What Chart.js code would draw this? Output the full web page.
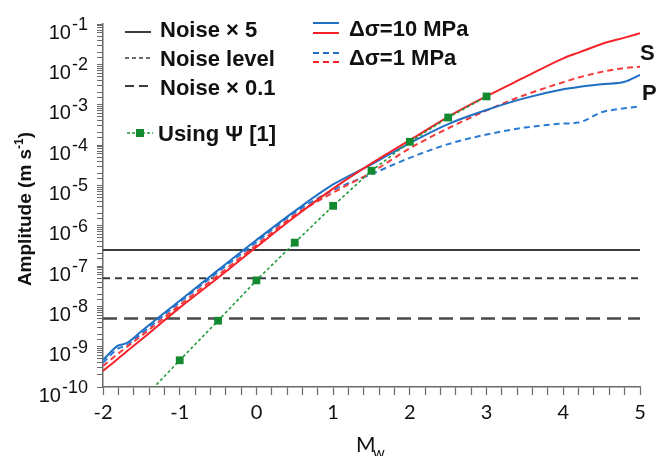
<!DOCTYPE html>
<html>
<head>
<meta charset="utf-8">
<script src="https://cdn.jsdelivr.net/npm/chart.js@4.4.1/dist/chart.umd.min.js"></script>
<style>
  html, body { margin: 0; padding: 0; background: #fff; }
</style>
</head>
<body>
<canvas id="chart" width="662" height="456"></canvas>
<script>
// Magnitude grid shared by the four model curves
const mw = [-2, -1.8, -1.7, -1.5, -1, -0.5, 0, 0.5, 1, 1.5, 2, 2.5, 3, 3.5, 4, 4.2, 4.5, 4.8, 5];

// P wave, stress drop 10 MPa (blue solid)
const pHigh = [4.7e-10, 1.07e-9, 1.2e-9, 2.4e-9, 1.38e-8, 7.9e-8, 4.4e-7, 2.3e-6, 1.05e-5, 3.3e-5,
  1.12e-4, 3.3e-4, 7.4e-4, 1.45e-3, 2.4e-3, 2.75e-3, 3.2e-3, 3.7e-3, 5.5e-3];
// S wave, stress drop 10 MPa (red solid)
const sHigh = [2.5e-10, 5.1e-10, 7.4e-10, 1.5e-9, 9.3e-9, 5.1e-8, 2.95e-7, 1.66e-6, 8.3e-6, 3.5e-5,
  1.32e-4, 5.0e-4, 1.62e-3, 4.8e-3, 1.41e-2, 1.95e-2, 3.2e-2, 4.6e-2, 5.9e-2];
// P wave, stress drop 1 MPa (blue dashed)
const pLow = [4.0e-10, 9.1e-10, 1.05e-9, 2.1e-9, 1.26e-8, 7.1e-8, 3.9e-7, 2.1e-6, 7.6e-6, 1.9e-5,
  4.8e-5, 1.05e-4, 1.82e-4, 2.7e-4, 3.4e-4, 3.6e-4, 6.5e-4, 8.1e-4, 9.1e-4];
// S wave, stress drop 1 MPa (red dashed)
const sLow = [3.3e-10, 6.8e-10, 9.5e-10, 1.86e-9, 1.07e-8, 5.9e-8, 3.3e-7, 1.82e-6, 6.6e-6, 2.1e-5,
  8.3e-5, 2.6e-4, 7.2e-4, 1.74e-3, 3.6e-3, 4.7e-3, 6.5e-3, 8.1e-3, 8.7e-3];

// Using Psi [1] (green, dotted with squares); first point lies below the axis
const psiMw = [-1.5, -1, -0.5, 0, 0.5, 1, 1.5, 2, 2.5, 3];
const psiAmp = [4.6e-11, 4.6e-10, 4.4e-9, 4.4e-8, 3.8e-7, 3.1e-6, 2.3e-5, 1.2e-4, 4.8e-4, 1.6e-3];

// Noise reference lines
const noiseMw = [-2, 5];
const noiseX5 = [2.5e-7, 2.5e-7];
const noiseLevel = [5e-8, 5e-8];
const noiseX01 = [5e-9, 5e-9];

// Axis ticks
const yTickValues = [1e-1, 1e-2, 1e-3, 1e-4, 1e-5, 1e-6, 1e-7, 1e-8, 1e-9, 1e-10];
const yTickExps = ['-1', '-2', '-3', '-4', '-5', '-6', '-7', '-8', '-9', '-10'];
const xTickLabels = [-2, -1, 0, 1, 2, 3, 4, 5];

const BLUE = '#1f6fc4';
const BLUE_D = '#2a7bd3';
const RED = '#f5222a';
const RED_D = '#f53a3a';
const GREEN = '#1f9a3c';
const GREEN_M = '#138a2f';
const NOISE = '#3c3c3c';
const AXIS = '#6a6a6a';

function pts(xs, ys) {
    return xs.map((x, i) => ({ x: x, y: ys[i] }));
}

function curve(label, data, color, dash, order) {
    return {
        label: label,
        data: data,
        borderColor: color,
        borderWidth: 2,
        borderDash: dash,
        pointRadius: 0,
        cubicInterpolationMode: 'monotone',
        order: order
    };
}

const datasets = [
    {
        label: 'Using Ψ [1]',
        data: pts(psiMw, psiAmp),
        borderColor: GREEN,
        borderWidth: 1.6,
        borderDash: [3, 2.5],
        pointStyle: 'rect',
        pointRadius: psiMw.map((v, i) => i === 0 ? 0 : 5.5),
        pointBackgroundColor: GREEN_M,
        pointBorderWidth: 0,
        order: 0
    },
    curve('S 10 MPa', pts(mw, sHigh), RED, [], 1),
    curve('P 10 MPa', pts(mw, pHigh), BLUE, [], 2),
    curve('S 1 MPa', pts(mw, sLow), RED_D, [6, 4], 3),
    curve('P 1 MPa', pts(mw, pLow), BLUE_D, [6, 4], 4),
    curve('Noise × 5', pts(noiseMw, noiseX5), NOISE, [], 5),
    curve('Noise level', pts(noiseMw, noiseLevel), NOISE, [7, 5], 6),
    curve('Noise × 0.1', pts(noiseMw, noiseX01), '#4a4a4a', [14, 7], 7)
];
datasets[7].borderWidth = 2.5;

// Draws the superscript tick labels, axis titles, legend and S/P tags
const annotate = {
    id: 'annotate',
    afterDraw(chart) {
        const ctx = chart.ctx;
        const ys = chart.scales.y;
        const area = chart.chartArea;
        ctx.save();
        ctx.fillStyle = '#111';
        ctx.textAlign = 'left';
        ctx.textBaseline = 'alphabetic';

        // y tick labels 10^n
        const right = area.left - 15;
        yTickValues.forEach((v, i) => {
            const py = ys.getPixelForValue(v);
            ctx.font = '18px "Liberation Sans", Arial, sans-serif';
            const sw = ctx.measureText(yTickExps[i]).width;
            ctx.fillText(yTickExps[i], right - sw, py + 6);
            ctx.font = '20px "Liberation Sans", Arial, sans-serif';
            const bw = ctx.measureText('10').width;
            ctx.fillText('10', right - sw - 1 - bw, py + 14.5);
        });

        // y title
        ctx.save();
        ctx.translate(31, 209);
        ctx.rotate(-Math.PI / 2);
        ctx.font = 'bold 19px "Liberation Sans", Arial, sans-serif';
        const t1 = 'Amplitude (m s';
        const w1 = ctx.measureText(t1).width;
        ctx.font = 'bold 12px "Liberation Sans", Arial, sans-serif';
        const w2 = ctx.measureText('-1').width;
        ctx.font = 'bold 19px "Liberation Sans", Arial, sans-serif';
        const w3 = ctx.measureText(')').width;
        let x0 = -(w1 + w2 + w3) / 2;
        ctx.fillText(t1, x0, 0);
        ctx.font = 'bold 12px "Liberation Sans", Arial, sans-serif';
        ctx.fillText('-1', x0 + w1, -8);
        ctx.font = 'bold 19px "Liberation Sans", Arial, sans-serif';
        ctx.fillText(')', x0 + w1 + w2, 0);
        ctx.restore();

        // x title M_w
        ctx.font = '21px Lato, "Open Sans", sans-serif';
        ctx.fillText('M', 356, 452);
        ctx.font = '15px Lato, "Open Sans", sans-serif';
        ctx.fillText('w', 373, 458);

        // legend, left column
        ctx.font = 'bold 22px "Liberation Sans", Arial, sans-serif';
        const rows = [
            { text: 'Noise × 5', y: 37, ly: 32, dash: [], w: 2 },
            { text: 'Noise level', y: 66, ly: 58, dash: [4, 3], w: 1.6 },
            { text: 'Noise × 0.1', y: 95, ly: 86, dash: [9, 5], w: 2 }
        ];
        rows.forEach(r => {
            ctx.beginPath();
            ctx.strokeStyle = NOISE;
            ctx.lineWidth = r.w;
            ctx.setLineDash(r.dash);
            ctx.moveTo(125, r.ly);
            ctx.lineTo(151, r.ly);
            ctx.stroke();
            ctx.fillText(r.text, 160, r.y);
        });
        ctx.beginPath();
        ctx.strokeStyle = GREEN;
        ctx.lineWidth = 1.6;
        ctx.setLineDash([3, 2]);
        ctx.moveTo(127, 133);
        ctx.lineTo(153, 133);
        ctx.stroke();
        ctx.setLineDash([]);
        ctx.fillStyle = GREEN_M;
        ctx.fillRect(136, 129, 8, 8);
        ctx.fillStyle = '#111';
        ctx.fillText('Using Ψ [1]', 158, 141);

        // legend, right column
        const pairs = [
            { y1: 23, y2: 33, dash: [], text: 'Δσ=10 MPa', ty: 36 },
            { y1: 53, y2: 62, dash: [6, 4], text: 'Δσ=1 MPa', ty: 65 }
        ];
        pairs.forEach(p => {
            ctx.lineWidth = 2;
            ctx.setLineDash(p.dash);
            ctx.beginPath();
            ctx.strokeStyle = BLUE;
            ctx.moveTo(313, p.y1);
            ctx.lineTo(339, p.y1);
            ctx.stroke();
            ctx.beginPath();
            ctx.strokeStyle = RED;
            ctx.moveTo(313, p.y2);
            ctx.lineTo(339, p.y2);
            ctx.stroke();
            ctx.fillText(p.text, 349, p.ty);
        });
        ctx.setLineDash([]);

        // curve tags
        ctx.fillText('S', 640, 60);
        ctx.fillText('P', 642, 100);
        ctx.restore();
    }
};

const ctx = document.getElementById('chart').getContext('2d');
new Chart(ctx, {
    type: 'line',
    data: { datasets: datasets },
    options: {
        responsive: false,
        animation: false,
        devicePixelRatio: 1,
        layout: { padding: { top: 24, right: 22, left: 0, bottom: 0 } },
        plugins: {
            legend: { display: false },
            tooltip: { enabled: false }
        },
        scales: {
            x: {
                type: 'linear',
                min: -2,
                max: 5,
                afterFit: function (scale) { scale.height = 69; },
                border: { display: true, color: AXIS, width: 1.5 },
                grid: { drawOnChartArea: false, drawTicks: true, tickLength: 8, color: AXIS, tickWidth: 1.2 },
                ticks: {
                    stepSize: 0.2,
                    autoSkip: false,
                    maxRotation: 0,
                    padding: 6,
                    color: '#111',
                    font: { family: 'Lato, "Open Sans", sans-serif', size: 20 },
                    callback: function (value) {
                        const r = Math.round(value);
                        return (Math.abs(value - r) < 1e-6 && xTickLabels.includes(r)) ? String(r) : '';
                    }
                }
            },
            y: {
                type: 'logarithmic',
                min: 1e-10,
                max: 1e-1,
                afterFit: function (scale) { scale.width = 103; },
                border: { display: true, color: AXIS, width: 1.5 },
                grid: { drawOnChartArea: false, drawTicks: true, tickLength: 6, color: AXIS, tickWidth: 1 },
                ticks: {
                    autoSkip: false,
                    callback: function () { return ''; }
                }
            }
        }
    },
    plugins: [annotate]
});
</script>
</body>
</html>
